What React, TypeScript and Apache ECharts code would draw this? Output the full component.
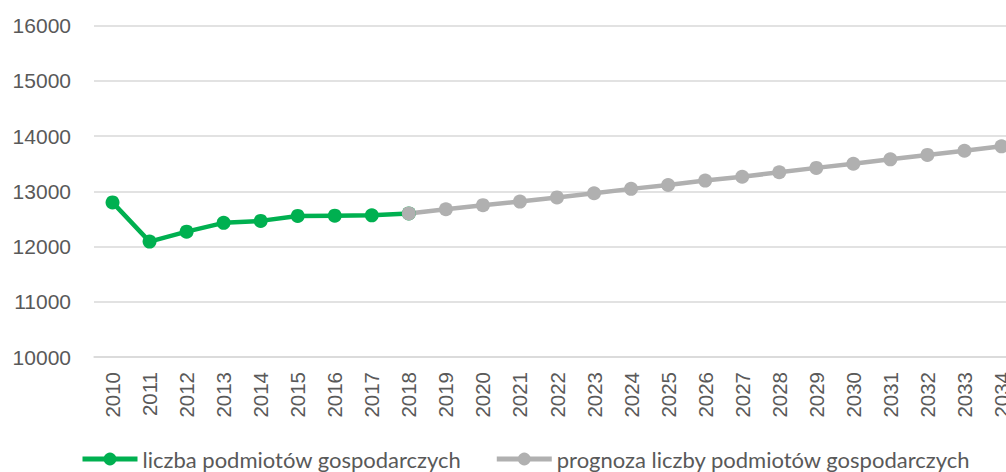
import React, { useEffect, useRef } from "react";
import * as echarts from "echarts";

const years = [
  "2010", "2011", "2012", "2013", "2014", "2015", "2016", "2017", "2018",
  "2019", "2020", "2021", "2022", "2023", "2024", "2025", "2026", "2027",
  "2028", "2029", "2030", "2031", "2032", "2033", "2034",
];

const actualName = "liczba podmiotów gospodarczych";
const forecastName = "prognoza liczby podmiotów gospodarczych";

const actualValues: (number | null)[] = [
  12800, 12090, 12270, 12430, 12465, 12555, 12560, 12565, 12600,
  null, null, null, null, null, null, null, null, null, null, null, null, null, null, null, null,
];

const forecastValues: (number | null)[] = [
  null, null, null, null, null, null, null, null,
  12600, 12675, 12750, 12815, 12890, 12965, 13045, 13115, 13195, 13265,
  13345, 13425, 13500, 13580, 13660, 13735, 13815,
];

const yTicks = { min: 10000, max: 16000, interval: 1000 };

export default function App() {
  const ref = useRef<HTMLDivElement>(null);

  useEffect(() => {
    if (!ref.current) return;
    const chart = echarts.init(ref.current, undefined, { renderer: "svg" });
    const labelColor = "#595959";
    chart.setOption({
      animation: false,
      backgroundColor: "#ffffff",
      grid: { left: 94, right: 2, top: 25.7, bottom: 115 },
      legend: {
        left: 80,
        top: 448,
        padding: 0,
        itemWidth: 55,
        itemHeight: 16,
        itemGap: 33,
        lineStyle: { width: 5 },
        textStyle: { fontFamily: "Lato", fontSize: 22, color: labelColor },
        data: [actualName, forecastName],
      },
      xAxis: {
        type: "category",
        data: years,
        boundaryGap: true,
        axisLine: { show: true, lineStyle: { color: "#D9D9D9", width: 1.5 } },
        axisTick: { show: false },
        axisLabel: {
          rotate: 90,
          margin: 15,
          interval: 0,
          fontFamily: "Liberation Sans",
          fontSize: 20.5,
          color: labelColor,
        },
      },
      yAxis: {
        type: "value",
        min: yTicks.min,
        max: yTicks.max,
        interval: yTicks.interval,
        axisLine: { show: false },
        axisTick: { show: false },
        axisLabel: {
          margin: 23,
          fontFamily: "Liberation Sans",
          fontSize: 21,
          color: labelColor,
          formatter: (v: number) => String(v),
        },
        splitLine: { lineStyle: { color: "#D9D9D9", width: 1.5 } },
      },
      series: [
        {
          name: actualName,
          type: "line",
          data: actualValues,
          symbol: "circle",
          symbolSize: 14,
          itemStyle: { color: "#00B050" },
          lineStyle: { color: "#00B050", width: 4.5 },
          connectNulls: false,
        },
        {
          name: forecastName,
          type: "line",
          data: forecastValues,
          symbol: "circle",
          symbolSize: 14,
          itemStyle: { color: "#B0B0B0" },
          lineStyle: { color: "#B0B0B0", width: 4.5 },
          connectNulls: false,
        },
      ],
    });
    return () => chart.dispose();
  }, []);

  return (
    <div
      style={{
        position: "absolute",
        left: 0,
        top: 0,
        width: 1006,
        height: 472,
        overflow: "hidden",
        background: "#fff",
      }}
    >
      <div ref={ref} style={{ width: 1022, height: 472 }} />
    </div>
  );
}
